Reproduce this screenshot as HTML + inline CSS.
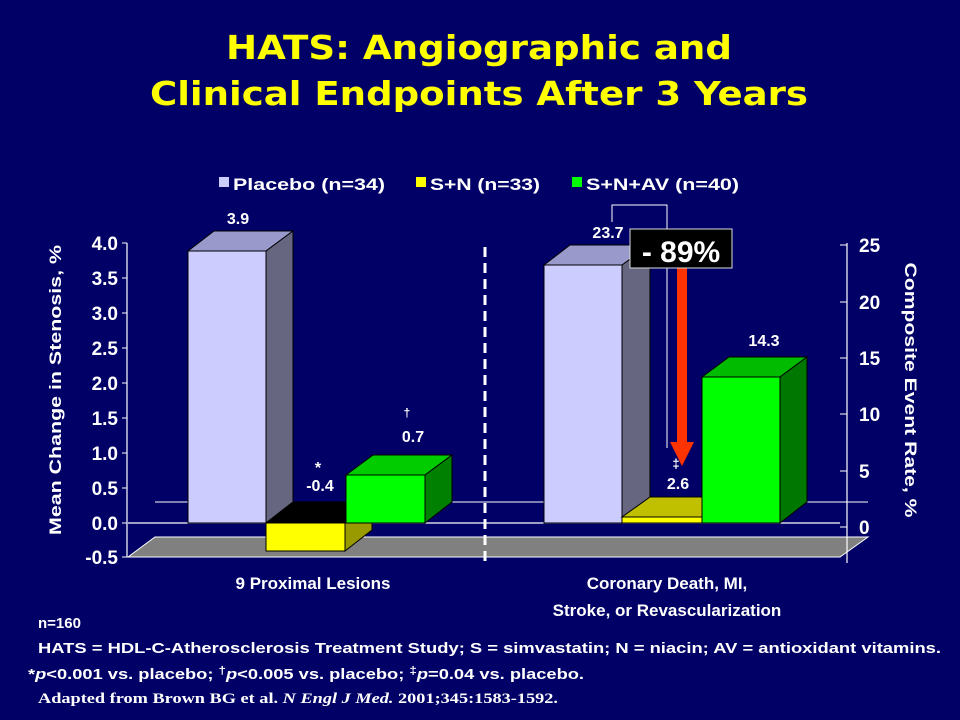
<!DOCTYPE html>
<html><head><meta charset="utf-8"><style>
html,body{margin:0;padding:0;background:#000066;}
svg{display:block;font-family:"Liberation Sans",Arial,sans-serif;}
</style></head><body>
<svg width="960" height="720" viewBox="0 0 960 720">
<rect width="960" height="720" fill="#000066"/>
<g font-family="'DejaVu Sans',sans-serif" font-weight="bold" font-size="33" fill="#ffff00" text-anchor="middle">
<text x="479" y="59" textLength="506" lengthAdjust="spacingAndGlyphs">HATS: Angiographic and</text>
<text x="479" y="105" textLength="658" lengthAdjust="spacingAndGlyphs">Clinical Endpoints After 3 Years</text>
</g>
<!-- legend -->
<g font-weight="bold" font-size="17" fill="#fff">
<rect x="219" y="177" width="10" height="10" fill="#ccccff"/>
<text x="233" y="190" textLength="152" lengthAdjust="spacingAndGlyphs">Placebo (n=34)</text>
<rect x="416" y="177" width="10" height="10" fill="#ffff00"/>
<text x="430" y="190" textLength="110" lengthAdjust="spacingAndGlyphs">S+N (n=33)</text>
<rect x="572" y="177" width="10" height="10" fill="#00ff00"/>
<text x="586" y="190" textLength="153" lengthAdjust="spacingAndGlyphs">S+N+AV (n=40)</text>
</g>
<line x1="155" y1="502" x2="868" y2="502" stroke="#fff" stroke-width="1"/>
<polygon points="155,537 868,537 840,557 128,557" fill="#808080" stroke="#fff" stroke-width="1"/>
<line x1="128" y1="523" x2="840" y2="523" stroke="#fff" stroke-width="1.2"/>
<line x1="127" y1="243" x2="127" y2="557" stroke="#fff" stroke-width="1.2"/>
<g stroke="#fff">
<line x1="122" y1="243" x2="127" y2="243"/><line x1="122" y1="278" x2="127" y2="278"/><line x1="122" y1="313" x2="127" y2="313"/><line x1="122" y1="348" x2="127" y2="348"/><line x1="122" y1="383" x2="127" y2="383"/><line x1="122" y1="418" x2="127" y2="418"/><line x1="122" y1="453" x2="127" y2="453"/><line x1="122" y1="488" x2="127" y2="488"/><line x1="122" y1="523" x2="127" y2="523"/><line x1="122" y1="557" x2="127" y2="557"/>
</g>
<g font-weight="bold" font-size="19" fill="#fff" text-anchor="end">
<text x="118" y="250">4.0</text><text x="118" y="285">3.5</text><text x="118" y="320">3.0</text><text x="118" y="355">2.5</text><text x="118" y="390">2.0</text><text x="118" y="425">1.5</text><text x="118" y="460">1.0</text><text x="118" y="495">0.5</text><text x="118" y="530">0.0</text><text x="118" y="564">-0.5</text>
</g>
<text transform="translate(61,390) rotate(-90)" font-weight="bold" font-size="17" fill="#fff" text-anchor="middle" textLength="290" lengthAdjust="spacingAndGlyphs">Mean Change in Stenosis, %</text>
<line x1="847" y1="243" x2="847" y2="563" stroke="#fff" stroke-width="1.2"/>
<g stroke="#fff">
<line x1="840" y1="245" x2="847" y2="245"/><line x1="840" y1="302" x2="847" y2="302"/><line x1="840" y1="358" x2="847" y2="358"/><line x1="840" y1="414" x2="847" y2="414"/><line x1="840" y1="471" x2="847" y2="471"/><line x1="840" y1="527" x2="847" y2="527"/>
</g>
<g font-weight="bold" font-size="19" fill="#fff">
<text x="859" y="252">25</text><text x="859" y="309">20</text><text x="859" y="365">15</text><text x="859" y="421">10</text><text x="859" y="478">5</text><text x="859" y="534">0</text>
</g>
<text transform="translate(905,390) rotate(90)" font-weight="bold" font-size="17" fill="#fff" text-anchor="middle" textLength="255" lengthAdjust="spacingAndGlyphs">Composite Event Rate, %</text>
<line x1="485" y1="247" x2="485" y2="563" stroke="#fff" stroke-width="3" stroke-dasharray="10,6"/>
<g stroke="#000" stroke-width="1">
<polygon points="188,251 214,231 293,231 266,251" fill="#9999cc"/>
<polygon points="266,251 293,231 293,502 266,523" fill="#666680"/>
<rect x="188" y="251" width="78" height="272" fill="#ccccff"/>
<polygon points="266,523 293,502 372,502 345,523" fill="#000"/>
<polygon points="345,523 372,502 372,530 345,551" fill="#999900"/>
<rect x="266" y="523" width="79" height="28" fill="#ffff00"/>
<polygon points="346,475 373,455 452,455 425,475" fill="#00cc00"/>
<polygon points="425,475 452,455 452,502 425,523" fill="#008000"/>
<rect x="346" y="475" width="79" height="48" fill="#00ff00"/>
</g>
<g stroke="#000" stroke-width="1">
<polygon points="544,265 570,245 650,245 622,265" fill="#9999cc"/>
<polygon points="622,265 650,245 650,502 622,523" fill="#666680"/>
<rect x="544" y="265" width="78" height="258" fill="#ccccff"/>
<polygon points="622,517 650,497 729,497 702,517" fill="#c0c000"/>
<rect x="622" y="517" width="80" height="6" fill="#ffff00"/>
<polygon points="702,377 729,357 807,357 780,377" fill="#00bb00"/>
<polygon points="780,377 807,357 807,502 780,523" fill="#007700"/>
<rect x="702" y="377" width="78" height="146" fill="#00ff00"/>
</g>
<g font-weight="bold" font-size="16" fill="#fff" text-anchor="middle">
<text x="238" y="224">3.9</text>
<text x="318" y="473">*</text><text x="320" y="491">-0.4</text>
<text x="407" y="417" font-size="12">†</text><text x="413" y="442">0.7</text>
<text x="608" y="238">23.7</text>
<text x="676" y="468" font-size="13">‡</text><text x="678" y="489">2.6</text>
<text x="764" y="346">14.3</text>
</g>
<polyline points="612,222 612,205 667,205 667,448" fill="none" stroke="#fff" stroke-width="1"/>
<rect x="677" y="268" width="10" height="175" fill="#ff3300"/>
<polygon points="670,442 694,442 682,466" fill="#ff3300"/>
<rect x="630" y="229" width="102" height="39" fill="#000" stroke="#ddd" stroke-width="1"/>
<text x="681" y="262" font-weight="bold" font-size="30" fill="#fff" text-anchor="middle">- 89%</text>
<g font-weight="bold" font-size="17" fill="#fff" text-anchor="middle">
<text x="313" y="589">9 Proximal Lesions</text>
<text x="667" y="589">Coronary Death, MI,</text>
<text x="667" y="616">Stroke, or Revascularization</text>
</g>
<g font-weight="bold" font-size="15" fill="#fff">
<text x="38" y="628">n=160</text>
<text x="38" y="653" textLength="903" lengthAdjust="spacingAndGlyphs">HATS = HDL-C-Atherosclerosis Treatment Study; S = simvastatin; N = niacin; AV = antioxidant vitamins.</text>
<text x="28" y="679" textLength="556" lengthAdjust="spacingAndGlyphs">*<tspan font-style="italic">p</tspan>&lt;0.001 vs. placebo; <tspan font-size="11" dy="-5">†</tspan><tspan dy="5" font-style="italic">p</tspan>&lt;0.005 vs. placebo; <tspan font-size="11" dy="-5">‡</tspan><tspan dy="5" font-style="italic">p</tspan>=0.04 vs. placebo.</text>
</g>
<text x="38" y="703" font-family="'Liberation Serif',serif" font-weight="bold" font-size="15" fill="#fff" textLength="520" lengthAdjust="spacingAndGlyphs">Adapted from Brown BG et al. <tspan font-style="italic">N Engl J Med.</tspan> 2001;345:1583-1592.</text>
</svg>
</body></html>
